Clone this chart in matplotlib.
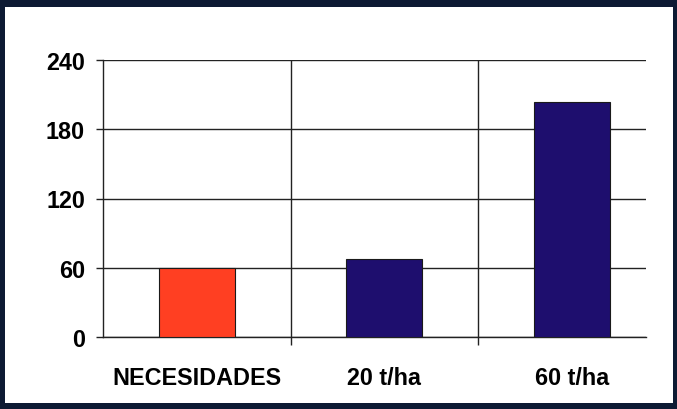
"""Bar chart: nutrient needs vs. supply at 20 and 60 t/ha."""

import matplotlib
matplotlib.use("Agg")
import matplotlib.pyplot as plt
import matplotlib.patches as mpatches

CATEGORIES = ["NECESIDADES", "20 t/ha", "60 t/ha"]
VALUES = [60, 67.5, 204]
BAR_COLORS = ["#ff3f22", "#1e0e6e"]
Y_TICKS = [0, 60, 120, 180, 240]


def main() -> None:
    plt.rcParams["font.family"] = ["Liberation Sans", "DejaVu Sans"]
    W, H = 677, 410
    fig = plt.figure(figsize=(W / 100, H / 100), dpi=100, facecolor="#0d1a33")
    # white slide area inside the dark frame
    fig.patches.append(mpatches.Rectangle((5 / W, 6 / H), (673 - 5) / W,
                                          (402 - 6) / H,
                                          transform=fig.transFigure,
                                          facecolor="white", edgecolor="none",
                                          zorder=-10))

    ax = fig.add_axes([103 / W, 72 / H, (646 - 103) / W, 277 / H])
    ax.set_zorder(5)
    ax.set_facecolor("white")
    x = list(range(len(CATEGORIES)))
    colors = [BAR_COLORS[0]] + [BAR_COLORS[1]] * (len(CATEGORIES) - 1)
    ax.bar(x, VALUES, width=0.405, color=colors, edgecolor="#1a1a1a",
           linewidth=0.8, zorder=3)

    ax.set_xlim(-0.5, 2.395)
    ax.set_ylim(0, 240)
    ax.set_yticks(Y_TICKS)
    ax.set_yticklabels([str(t) for t in Y_TICKS], fontsize=16.8,
                       fontweight="bold")
    ax.set_xticks(x)
    ax.set_xticklabels(CATEGORIES, fontsize=16.8, fontweight="bold")
    ax.set_xticks([0.5, 1.5], minor=True)

    ax.tick_params(axis="y", length=5, width=1.0, pad=8, color="#222222")
    ax.tick_params(axis="x", which="major", length=0, pad=21)
    ax.tick_params(axis="x", which="minor", length=6, width=1.0,
                   color="#222222")

    ax.grid(axis="y", color="#222222", linewidth=1.0, zorder=1)
    for xv in (0.5, 1.5):
        ax.axvline(xv, color="#222222", linewidth=1.0, zorder=1)

    ax.spines[["top", "right"]].set_visible(False)
    ax.spines[["left", "bottom"]].set_color("#222222")
    ax.spines[["left", "bottom"]].set_linewidth(1.0)

    fig.savefig("out.png", dpi=100, facecolor=fig.get_facecolor())


if __name__ == "__main__":
    main()
